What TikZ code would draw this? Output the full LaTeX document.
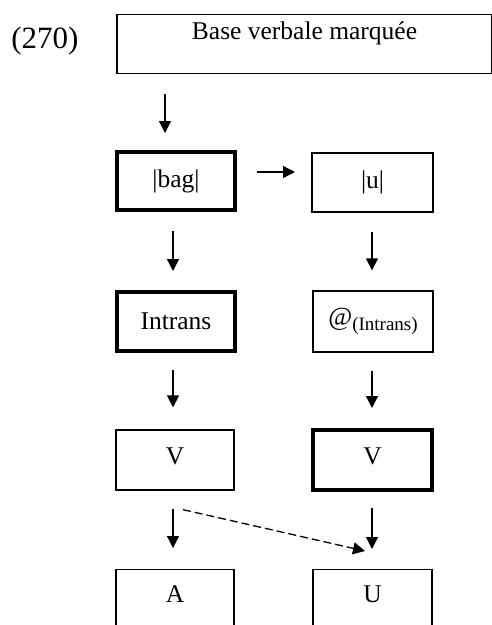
\documentclass[tikz,border=0pt]{standalone}
\usepackage{fontspec}
\setmainfont{Liberation Serif}
\usetikzlibrary{arrows.meta,calc}
\begin{document}
\begin{tikzpicture}[x=1pt,y=-1pt,
  thinbox/.style={draw,line width=1.3pt,inner sep=0pt,font=\fontsize{25.5}{30}\selectfont},
  thickbox/.style={draw,line width=4pt,inner sep=0pt,font=\fontsize{25.5}{30}\selectfont},
  arr/.style={line width=1.3pt,-{Triangle[width=12pt,length=12pt]}},
  darr/.style={arr,dash pattern=on 8pt off 4pt}]
\useasboundingbox (0,0) rectangle (492,625);
\clip (0,0) rectangle (492,625);
% label
\node[anchor=base,font=\fontsize{31}{36}\selectfont,inner sep=0pt] (num) at (45,48) {(270)};
% top box
\node[thinbox,anchor=north,minimum width=375pt,text height=25pt,text depth=34pt] (base) at (304.5,14) {Base verbale marquée};
% left column
\node[thickbox,minimum width=118pt,minimum height=58pt] (bag) at (176,181) {|bag|};
\node[thickbox,minimum width=118pt,minimum height=59pt] (intr) at (176,321.5) {Intrans};
\node[thinbox,minimum width=118pt,minimum height=60pt,text height=17pt,text depth=8pt] (vl) at (175,460) {V};
\node[thinbox,anchor=north,minimum width=118pt,text height=33pt,text depth=70pt] (a) at (175,569) {A};
% right column
\node[thinbox,minimum width=121pt,minimum height=59pt] (u) at (372.5,182.5) {|u|};
\node[thinbox,minimum width=120pt,minimum height=61pt] (at) at (373,321.5) {{\fontsize{26}{28}\selectfont @}\raisebox{-5pt}{\fontsize{19}{22}\selectfont (Intrans)}};
\node[thickbox,minimum width=119pt,minimum height=60pt,text height=17pt,text depth=8pt] (vr) at (372.5,460) {V};
\node[thinbox,anchor=north,minimum width=119pt,text height=33pt,text depth=70pt] (uu) at (372.5,569) {U};
% arrows
\draw[arr] ($(base.south -| bag.north)+(-11,20)$) -- ($(bag.north)+(-11,-17)$);
\draw[arr] ($(bag.east)+(20,-9)$) -- ++(38,0);
\draw[arr] ($(bag.south)+(-3,19)$) -- ($(intr.north)+(-3,-19)$);
\draw[arr] ($(intr.south)+(-3,17)$) -- ($(vl.north)+(-2,-22)$);
\draw[arr] ($(vl.south)+(-2,18)$) -- ($(a.north)+(-2,-21)$);
\draw[arr] ($(u.south)+(-0.5,19)$) -- ($(at.north)+(-1,-20)$);
\draw[arr] ($(at.south)+(-1,18)$) -- ($(vr.north)+(-0.5,-20)$);
\draw[arr] ($(vr.south)+(-0.5,16)$) -- ($(uu.north)+(-0.5,-20)$);
\draw[darr] ($(vl.south)+(8,19)$) -- ($(uu.north)+(-7.5,-18)$);
\end{tikzpicture}
\end{document}
